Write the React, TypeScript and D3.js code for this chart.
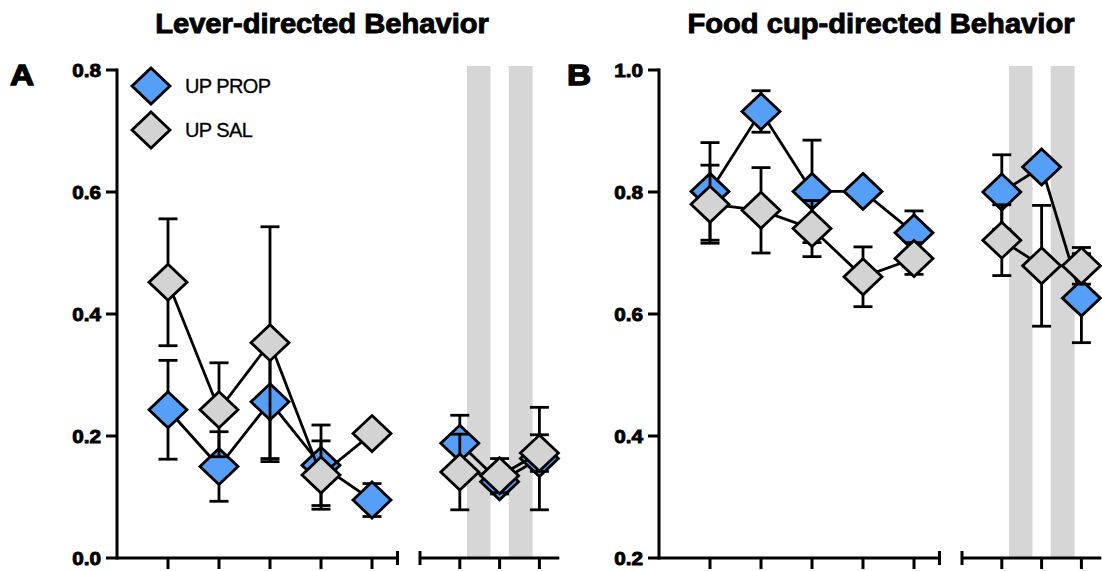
import React from 'react';
import * as d3 from 'd3';

const W = 1102;
const H = 571;

// Session positions on the two x-axis segments
const sessionsA = [1, 2, 3, 4, 5];
const sessionsB = [1, 2, 3];
const shadedSpans: [number, number][] = [[1.18, 1.77], [2.23, 2.83]];

const leverTicks = [0, 0.2, 0.4, 0.6, 0.8];
const cupTicks = [0.2, 0.4, 0.6, 0.8, 1.0];

// Lever-directed behavior (mean ± SEM)
const leverPropMean1 = [0.243, 0.150, 0.256, 0.152, 0.095];
const leverPropSem1 = [0.081, 0.057, 0.098, 0.066, 0.027];
const leverSalMean1 = [0.452, 0.243, 0.353, 0.136, 0.204];
const leverSalSem1 = [0.104, 0.077, 0.19, 0.056, 0.012];
const leverPropMean2 = [0.188, 0.125, 0.163];
const leverPropSem2 = [0.046, 0.02, 0.084];
const leverSalMean2 = [0.141, 0.135, 0.172];
const leverSalSem2 = [0.062, 0.028, 0.03];

// Food cup-directed behavior (mean ± SEM)
const cupPropMean1 = [0.801, 0.932, 0.801, 0.801, 0.733];
const cupPropSem1 = [0.08, 0.034, 0.084, 0.01, 0.036];
const cupSalMean1 = [0.780, 0.770, 0.740, 0.661, 0.691];
const cupSalSem1 = [0.064, 0.07, 0.046, 0.049, 0.026];
const cupPropMean2 = [0.800, 0.841, 0.626];
const cupPropSem2 = [0.061, 0.01, 0.073];
const cupSalMean2 = [0.721, 0.679, 0.679];
const cupSalSem2 = [0.058, 0.099, 0.03];

const groupNames = ['UP PROP', 'UP SAL'];
const groupColors = ['#559FF8', '#D3D3D3'];
const bandColor = '#D6D6D6';

const FONT = '"Liberation Sans", Arial, Helvetica, sans-serif';
const TOP = 70;
const BASE = 558;
const SP1 = 51;
const SP2 = 39.8;
const HW = 19;
const HH = 18;
const STROKE = 2.8;

type Series = { m1: number[]; s1: number[]; m2: number[]; s2: number[] };

function diamond(x: number, y: number, hw = HW, hh = HH) {
  return `M${x},${y - hh}L${x + hw},${y}L${x},${y + hh}L${x - hw},${y}Z`;
}

function SeriesMarks({ data, color, x1, x2, y }: {
  data: Series; color: string;
  x1: d3.ScaleLinear<number, number>; x2: d3.ScaleLinear<number, number>;
  y: d3.ScaleLinear<number, number>;
}) {
  const segs = [
    { xs: sessionsA, m: data.m1, s: data.s1, x: x1 },
    { xs: sessionsB, m: data.m2, s: data.s2, x: x2 },
  ];
  const line = d3.line<[number, number]>().x(d => d[0]).y(d => d[1]);
  return (
    <g>
      {segs.map((seg, k) => (
        <path key={'l' + k}
          d={line(seg.xs.map((v, i) => [seg.x(v), y(seg.m[i])]) as [number, number][]) || ''}
          fill="none" stroke="#000" strokeWidth={STROKE} />
      ))}
      {segs.map((seg, k) => seg.xs.map((v, i) => {
        const cx = seg.x(v);
        const hi = y(seg.m[i] + seg.s[i]);
        const lo = y(seg.m[i] - seg.s[i]);
        return (
          <g key={'e' + k + '-' + i} stroke="#000" strokeWidth={STROKE}>
            <line x1={cx} x2={cx} y1={hi} y2={lo} />
            <line x1={cx - 9.5} x2={cx + 9.5} y1={hi} y2={hi} />
            <line x1={cx - 9.5} x2={cx + 9.5} y1={lo} y2={lo} />
          </g>
        );
      }))}
      {segs.map((seg, k) => seg.xs.map((v, i) => (
        <path key={'m' + k + '-' + i} d={diamond(seg.x(v), y(seg.m[i]))}
          fill={color} stroke="#000" strokeWidth={STROKE} strokeLinejoin="miter" />
      )))}
    </g>
  );
}

function Panel({ originX, yDomain, yTicks, title, titleCx, letter, letterX, prop, sal, legend }: {
  originX: number; yDomain: [number, number]; yTicks: number[];
  title: string; titleCx: number; letter: string; letterX: number;
  prop: Series; sal: Series; legend: boolean;
}) {
  const y = d3.scaleLinear().domain(yDomain).range([BASE, TOP]);
  const x1 = d3.scaleLinear().domain([0, 5.5]).range([originX, originX + 5.5 * SP1]);
  const s2 = originX + 303;
  const x2 = d3.scaleLinear().domain([0, 3.5]).range([s2, s2 + 3.5 * SP2]);

  return (
    <g>
      <text transform={`translate(${titleCx},33) scale(1.08,1)`} textAnchor="middle"
        fontFamily={FONT} fontWeight="bold" fontSize={27} fill="#000" stroke="#000" strokeWidth={0.9}>
        {title}
      </text>
      <text transform={`translate(${letterX},85) scale(1.15,1)`}
        fontFamily={FONT} fontWeight="bold" fontSize={29} fill="#000" stroke="#000" strokeWidth={1.3}>
        {letter}
      </text>

      {shadedSpans.map(([a, b], i) => (
        <rect key={i} x={x2(a)} width={x2(b) - x2(a)} y={TOP - 4} height={BASE - TOP + 4} fill={bandColor} />
      ))}

      {/* y axis */}
      <line x1={originX} x2={originX} y1={TOP} y2={BASE} stroke="#000" strokeWidth={3} strokeLinecap="square" />
      {yTicks.map(t => (
        <g key={t}>
          <line x1={originX - 11} x2={originX} y1={y(t)} y2={y(t)} stroke="#000" strokeWidth={3} />
          <text transform={`translate(${originX - 16},${y(t) + 6.5}) scale(1.12,1)`} textAnchor="end"
            fontFamily={FONT} fontWeight="bold" fontSize={18.5} fill="#000" stroke="#000" strokeWidth={0.9}>
            {t.toFixed(1)}
          </text>
        </g>
      ))}

      {/* x axis, first segment */}
      <line x1={originX} x2={x1(5.5)} y1={BASE} y2={BASE} stroke="#000" strokeWidth={3} />
      <line x1={x1(5.5)} x2={x1(5.5)} y1={BASE - 7} y2={BASE + 7} stroke="#000" strokeWidth={3} />
      {sessionsA.map(v => (
        <line key={v} x1={x1(v)} x2={x1(v)} y1={BASE} y2={BASE + 11} stroke="#000" strokeWidth={3} />
      ))}
      {/* x axis, second segment */}
      <line x1={x2(0)} x2={x2(3.5)} y1={BASE} y2={BASE} stroke="#000" strokeWidth={3} />
      <line x1={x2(0)} x2={x2(0)} y1={BASE - 7} y2={BASE + 7} stroke="#000" strokeWidth={3} />
      {sessionsB.map(v => (
        <line key={v} x1={x2(v)} x2={x2(v)} y1={BASE} y2={BASE + 11} stroke="#000" strokeWidth={3} />
      ))}

      <SeriesMarks data={prop} color={groupColors[0]} x1={x1} x2={x2} y={y} />
      <SeriesMarks data={sal} color={groupColors[1]} x1={x1} x2={x2} y={y} />

      {legend && groupNames.map((name, i) => (
        <g key={name}>
          <path d={diamond(originX + 34, TOP + 16 + i * 44)} fill={groupColors[i]} stroke="#000" strokeWidth={STROKE} />
          <text x={originX + 68} y={TOP + 23 + i * 44} fontFamily={FONT} fontSize={20}
            fill="#000" stroke="#000" strokeWidth={0.3} letterSpacing={-0.6}>{name}</text>
        </g>
      ))}
    </g>
  );
}

export default function App() {
  return (
    <svg width={W} height={H} style={{ position: 'absolute', left: 0, top: 0, background: '#fff' }}>
      <rect width={W} height={H} fill="#fff" />
      <Panel originX={117} yDomain={[0, 0.8]} yTicks={leverTicks}
        title="Lever-directed Behavior" titleCx={322} letter="A" letterX={10}
        prop={{ m1: leverPropMean1, s1: leverPropSem1, m2: leverPropMean2, s2: leverPropSem2 }}
        sal={{ m1: leverSalMean1, s1: leverSalSem1, m2: leverSalMean2, s2: leverSalSem2 }}
        legend={true} />
      <Panel originX={659} yDomain={[0.2, 1.0]} yTicks={cupTicks}
        title="Food cup-directed Behavior" titleCx={881} letter="B" letterX={567}
        prop={{ m1: cupPropMean1, s1: cupPropSem1, m2: cupPropMean2, s2: cupPropSem2 }}
        sal={{ m1: cupSalMean1, s1: cupSalSem1, m2: cupSalMean2, s2: cupSalSem2 }}
        legend={false} />
    </svg>
  );
}
